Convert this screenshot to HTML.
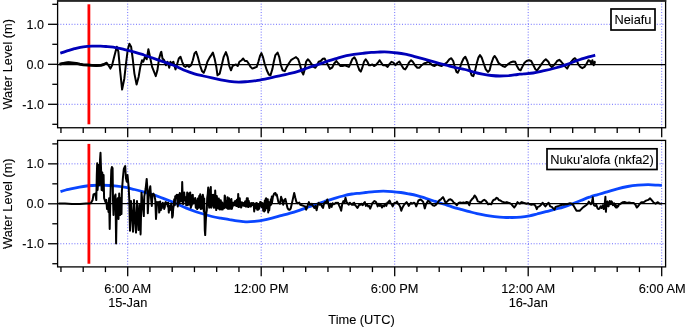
<!DOCTYPE html>
<html><head><meta charset="utf-8"><style>html,body{margin:0;padding:0;background:#fff;width:685px;height:327px;overflow:hidden}</style></head>
<body>
<svg width="685" height="327" viewBox="0 0 685 327" style="display:block;will-change:transform">
<line x1="127.70" y1="0.85" x2="127.70" y2="127.75" stroke="#6b6bff" stroke-width="1" stroke-dasharray="1,1.8"/>
<line x1="261.20" y1="0.85" x2="261.20" y2="127.75" stroke="#6b6bff" stroke-width="1" stroke-dasharray="1,1.8"/>
<line x1="394.70" y1="0.85" x2="394.70" y2="127.75" stroke="#6b6bff" stroke-width="1" stroke-dasharray="1,1.8"/>
<line x1="528.20" y1="0.85" x2="528.20" y2="127.75" stroke="#6b6bff" stroke-width="1" stroke-dasharray="1,1.8"/>
<line x1="661.70" y1="0.85" x2="661.70" y2="127.75" stroke="#6b6bff" stroke-width="1" stroke-dasharray="1,1.8"/>
<line x1="57.6" y1="24.30" x2="665.6" y2="24.30" stroke="#6b6bff" stroke-width="1" stroke-dasharray="1,1.8"/>
<line x1="57.6" y1="104.30" x2="665.6" y2="104.30" stroke="#6b6bff" stroke-width="1" stroke-dasharray="1,1.8"/>
<line x1="88.9" y1="4.30" x2="88.9" y2="124.30" stroke="#ff0000" stroke-width="2.8"/>
<line x1="57.6" y1="64.50" x2="665.6" y2="64.50" stroke="#000" stroke-width="1.25"/>
<path d="M59.6,64.2 L62.3,63.6 L65.8,62.9 L68.4,62.6 L71.9,62.9 L76.3,63.4 L79.8,64.2 L83.3,64.8 L87.6,65.0 L92.0,65.3 L96.4,65.6 L100.8,65.3 L104.3,64.3 L105.0,63.5 L106.7,62.7 L108.4,65.2 L110.4,68.6 L112.1,65.2 L114.2,56.8 L116.8,46.7 L118.4,51.8 L120.1,70.3 L122.1,89.6 L124.3,78.7 L126.0,63.5 L127.7,50.1 L129.4,43.7 L131.1,46.7 L132.7,58.5 L134.4,73.6 L136.6,84.5 L138.6,77.0 L140.3,66.9 L142.0,60.2 L143.3,61.8 L145.0,56.8 L146.7,59.3 L148.4,49.2 L150.0,56.8 L152.1,66.9 L154.1,71.9 L155.8,76.1 L157.4,70.3 L159.1,58.5 L160.8,52.6 L161.3,51.8 L162.5,58.5 L164.2,60.2 L165.9,65.2 L167.6,61.8 L169.2,67.7 L170.4,61.8 L171.8,63.5 L173.4,61.8 L175.5,69.4 L176.8,65.2 L178.8,58.5 L180.5,56.8 L182.2,61.8 L183.9,66.0 L185.5,66.9 L187.2,65.2 L188.9,66.9 L191.1,65.2 L192.8,60.2 L194.5,53.4 L196.1,51.8 L197.8,56.8 L200.0,65.2 L202.0,71.1 L203.7,72.8 L205.4,68.6 L207.4,61.8 L209.6,57.6 L211.3,55.1 L212.9,52.6 L214.6,58.5 L216.3,66.9 L217.5,75.3 L219.7,73.6 L221.7,65.2 L223.7,56.8 L225.9,52.1 L227.6,56.8 L229.3,66.0 L231.0,70.3 L232.6,66.0 L234.3,65.2 L236.0,64.4 L237.7,66.0 L239.4,61.8 L241.6,60.2 L243.2,58.5 L244.9,61.0 L246.9,61.0 L248.6,63.5 L250.6,66.9 L252.3,68.6 L254.5,67.7 L256.7,66.9 L258.4,61.8 L260.0,56.0 L261.4,53.1 L262.9,56.8 L264.6,63.5 L266.8,70.3 L268.8,74.5 L270.5,75.3 L272.5,68.6 L273.8,61.8 L275.4,55.1 L277.6,52.6 L279.2,56.8 L280.9,65.2 L282.6,70.3 L284.8,71.1 L286.8,66.9 L288.8,63.5 L291.0,60.2 L293.5,58.5 L296.0,57.1 L298.2,59.3 L299.9,64.4 L301.9,71.9 L303.3,74.5 L304.5,70.3 L306.1,61.8 L307.8,59.3 L309.5,61.0 L311.2,63.5 L313.4,66.9 L315.4,67.7 L317.1,65.2 L318.7,61.8 L320.8,61.0 L322.9,58.8 L324.6,58.5 L326.3,61.8 L328.4,66.0 L330.0,68.9 L332.1,67.7 L334.2,63.5 L336.4,61.0 L338.4,63.5 L340.5,66.0 L342.6,66.0 L344.8,65.2 L346.8,66.0 L348.9,66.9 L350.5,63.5 L352.2,59.3 L354.4,57.3 L356.1,60.2 L357.8,66.0 L359.5,70.3 L360.8,71.6 L362.3,67.7 L364.0,61.8 L365.7,59.3 L367.4,61.8 L369.0,65.2 L370.7,65.2 L372.4,64.4 L374.1,66.0 L375.8,65.2 L377.9,62.7 L379.6,60.2 L381.3,62.7 L383.0,65.2 L385.4,65.2 L387.6,66.9 L389.2,64.4 L391.4,61.8 L393.4,62.7 L395.5,65.2 L397.6,62.7 L399.3,61.5 L401.5,65.2 L403.5,68.6 L405.2,69.4 L406.9,66.9 L408.9,62.7 L411.1,60.2 L412.8,61.8 L415.0,65.2 L417.3,67.7 L419.5,67.7 L421.7,65.2 L424.0,63.5 L426.2,62.7 L428.4,61.8 L430.4,63.5 L432.4,65.2 L434.6,66.0 L437.1,64.4 L439.2,65.2 L441.7,66.0 L444.2,64.4 L446.8,62.7 L449.3,59.3 L451.3,58.2 L453.2,61.0 L454.8,66.9 L456.5,71.9 L457.7,72.8 L459.4,69.4 L461.6,62.7 L463.6,58.5 L465.3,56.8 L467.3,61.0 L469.5,68.6 L471.6,75.3 L473.3,76.1 L475.0,71.1 L476.7,63.5 L478.4,57.6 L480.0,55.1 L481.7,57.6 L483.7,63.5 L485.8,69.4 L487.9,71.9 L489.6,70.3 L491.3,63.5 L493.4,57.6 L494.7,56.0 L496.4,58.5 L498.4,62.7 L500.4,64.4 L502.6,66.0 L504.8,66.9 L506.8,65.2 L508.8,63.5 L511.0,62.2 L513.2,61.5 L515.2,61.8 L516.9,66.0 L518.9,69.4 L520.6,70.3 L522.3,66.9 L524.5,62.7 L526.6,61.0 L529.0,60.2 L531.2,61.0 L533.4,65.2 L535.4,69.4 L537.1,70.3 L539.1,67.7 L541.3,64.4 L543.8,61.0 L545.8,59.3 L548.4,61.8 L550.0,65.2 L551.7,67.2 L553.7,65.2 L555.4,63.5 L557.1,61.0 L559.3,59.8 L561.3,61.8 L563.5,64.4 L565.5,66.9 L567.2,68.6 L568.9,65.2 L571.1,61.8 L573.2,59.3 L574.9,58.2 L576.6,60.2 L578.3,64.4 L580.3,66.9 L582.3,68.2 L584.5,66.9 L586.7,63.5 L588.4,60.2 L590.0,61.0 L591.2,63.5 L592.4,60.2 L593.7,65.2 L594.7,61.8 L594.9,63.5" fill="none" stroke="#000" stroke-width="2" stroke-linejoin="round"/><path d="M59.6,64.2 L62.3,63.6 L65.8,62.9 L68.4,62.6 L71.9,62.9 L76.3,63.4 L79.8,64.2 L83.3,64.8 L87.6,65.0 L92.0,65.3 L96.4,65.6 L100.8,65.3 L104.3,64.3" fill="none" stroke="#000" stroke-width="2.8" stroke-linejoin="round"/>
<path d="M60.3,53.1 C61.2,52.8 63.4,52.0 65.8,51.3 C68.2,50.6 71.6,49.5 74.5,48.7 C77.4,48.0 80.4,47.2 83.3,46.8 C86.2,46.4 89.4,46.2 92.0,46.1 C94.6,46.0 96.7,46.0 99.0,46.1 C101.3,46.2 103.0,46.2 106.0,46.5 C109.0,46.8 113.7,47.2 117.0,47.8 C120.3,48.4 122.9,49.2 125.8,49.9 C128.7,50.6 131.6,51.3 134.5,52.1 C137.4,52.9 140.4,53.8 143.3,54.7 C146.2,55.7 149.1,56.8 152.0,57.8 C154.9,58.8 157.9,59.8 160.8,60.8 C163.7,61.8 166.8,62.9 169.5,63.9 C172.2,64.9 174.3,65.5 177.0,66.7 C179.7,67.9 182.9,69.6 185.8,70.8 C188.7,72.0 191.6,72.9 194.5,73.8 C197.4,74.7 200.4,75.3 203.3,76.0 C206.2,76.7 209.1,77.3 212.0,77.9 C214.9,78.5 217.9,79.2 220.8,79.8 C223.7,80.4 226.5,80.9 229.5,81.3 C232.5,81.7 235.8,82.0 238.8,82.1 C241.8,82.1 244.6,81.8 247.5,81.6 C250.4,81.3 254.0,80.9 256.3,80.6 C258.6,80.3 259.3,80.1 261.5,79.7 C263.7,79.3 266.6,78.7 269.4,78.1 C272.2,77.5 275.1,76.9 278.2,76.2 C281.3,75.5 284.7,74.8 288.0,74.0 C291.3,73.2 294.7,72.5 298.1,71.4 C301.5,70.4 304.8,68.9 308.2,67.7 C311.6,66.5 314.9,65.5 318.3,64.4 C321.7,63.3 325.0,62.0 328.3,60.9 C331.6,59.8 335.4,58.8 338.4,57.9 C341.4,57.0 343.9,56.3 346.5,55.7 C349.1,55.1 351.1,54.8 353.8,54.4 C356.5,54.0 359.6,53.6 362.5,53.3 C365.4,53.0 368.4,52.6 371.3,52.4 C374.2,52.2 377.8,52.1 380.0,52.0 C382.2,51.9 382.9,51.9 384.4,51.9 C385.9,51.9 386.6,51.9 388.8,52.1 C391.0,52.3 394.8,52.7 397.5,53.0 C400.2,53.3 402.3,53.6 405.0,54.1 C407.7,54.6 410.9,55.5 413.8,56.3 C416.7,57.1 419.6,57.9 422.5,58.7 C425.4,59.5 428.4,60.3 431.3,61.1 C434.2,61.9 437.1,62.8 440.0,63.6 C442.9,64.4 445.9,65.1 448.8,65.8 C451.7,66.5 454.8,67.4 457.5,68.0 C460.2,68.6 462.3,68.8 465.0,69.5 C467.7,70.2 470.9,71.3 473.8,72.1 C476.7,72.9 479.6,73.6 482.5,74.2 C485.4,74.8 488.4,75.2 491.3,75.5 C494.2,75.8 497.1,76.0 500.0,76.0 C502.9,76.0 505.9,75.8 508.8,75.6 C511.7,75.3 515.0,74.8 517.5,74.5 C520.0,74.2 520.9,74.0 523.5,73.8 C526.1,73.5 529.6,73.5 533.1,73.0 C536.6,72.5 540.5,71.5 544.2,70.7 C547.9,69.9 551.6,69.0 555.3,68.0 C559.0,67.0 562.7,65.9 566.4,64.6 C570.1,63.3 573.8,61.7 577.5,60.4 C581.2,59.1 585.6,57.8 588.6,56.9 C591.6,56.0 594.1,55.5 595.2,55.2" fill="none" stroke="#0000b8" stroke-width="2.8" stroke-linecap="butt"/>
<rect x="57.6" y="0.85" width="608.0" height="126.9" fill="none" stroke="#000" stroke-width="1.3"/>
<rect x="56.95" y="0" width="609.3" height="1.7" fill="#262626"/>
<line x1="52.3" y1="4.30" x2="57.6" y2="4.30" stroke="#000" stroke-width="1.3"/>
<line x1="48" y1="24.30" x2="57.6" y2="24.30" stroke="#000" stroke-width="1.3"/>
<text x="43.9" y="28.70" text-anchor="end" style="font-family:'Liberation Sans',sans-serif;stroke:#000;stroke-width:0.1px;font-size:12.5px">1.0</text>
<line x1="52.3" y1="44.30" x2="57.6" y2="44.30" stroke="#000" stroke-width="1.3"/>
<line x1="48" y1="64.30" x2="57.6" y2="64.30" stroke="#000" stroke-width="1.3"/>
<text x="43.9" y="68.70" text-anchor="end" style="font-family:'Liberation Sans',sans-serif;stroke:#000;stroke-width:0.1px;font-size:12.5px">0.0</text>
<line x1="52.3" y1="84.30" x2="57.6" y2="84.30" stroke="#000" stroke-width="1.3"/>
<line x1="48" y1="104.30" x2="57.6" y2="104.30" stroke="#000" stroke-width="1.3"/>
<text x="43.9" y="108.70" text-anchor="end" style="font-family:'Liberation Sans',sans-serif;stroke:#000;stroke-width:0.1px;font-size:12.5px">-1.0</text>
<line x1="52.3" y1="124.30" x2="57.6" y2="124.30" stroke="#000" stroke-width="1.3"/>
<line x1="60.95" y1="127.75" x2="60.95" y2="132.95" stroke="#000" stroke-width="1.3"/>
<line x1="83.20" y1="127.75" x2="83.20" y2="132.95" stroke="#000" stroke-width="1.3"/>
<line x1="105.45" y1="127.75" x2="105.45" y2="132.95" stroke="#000" stroke-width="1.3"/>
<line x1="127.70" y1="127.75" x2="127.70" y2="137.15" stroke="#000" stroke-width="1.3"/>
<line x1="149.95" y1="127.75" x2="149.95" y2="132.95" stroke="#000" stroke-width="1.3"/>
<line x1="172.20" y1="127.75" x2="172.20" y2="132.95" stroke="#000" stroke-width="1.3"/>
<line x1="194.45" y1="127.75" x2="194.45" y2="132.95" stroke="#000" stroke-width="1.3"/>
<line x1="216.70" y1="127.75" x2="216.70" y2="132.95" stroke="#000" stroke-width="1.3"/>
<line x1="238.95" y1="127.75" x2="238.95" y2="132.95" stroke="#000" stroke-width="1.3"/>
<line x1="261.20" y1="127.75" x2="261.20" y2="137.15" stroke="#000" stroke-width="1.3"/>
<line x1="283.45" y1="127.75" x2="283.45" y2="132.95" stroke="#000" stroke-width="1.3"/>
<line x1="305.70" y1="127.75" x2="305.70" y2="132.95" stroke="#000" stroke-width="1.3"/>
<line x1="327.95" y1="127.75" x2="327.95" y2="132.95" stroke="#000" stroke-width="1.3"/>
<line x1="350.20" y1="127.75" x2="350.20" y2="132.95" stroke="#000" stroke-width="1.3"/>
<line x1="372.45" y1="127.75" x2="372.45" y2="132.95" stroke="#000" stroke-width="1.3"/>
<line x1="394.70" y1="127.75" x2="394.70" y2="137.15" stroke="#000" stroke-width="1.3"/>
<line x1="416.95" y1="127.75" x2="416.95" y2="132.95" stroke="#000" stroke-width="1.3"/>
<line x1="439.20" y1="127.75" x2="439.20" y2="132.95" stroke="#000" stroke-width="1.3"/>
<line x1="461.45" y1="127.75" x2="461.45" y2="132.95" stroke="#000" stroke-width="1.3"/>
<line x1="483.70" y1="127.75" x2="483.70" y2="132.95" stroke="#000" stroke-width="1.3"/>
<line x1="505.95" y1="127.75" x2="505.95" y2="132.95" stroke="#000" stroke-width="1.3"/>
<line x1="528.20" y1="127.75" x2="528.20" y2="137.15" stroke="#000" stroke-width="1.3"/>
<line x1="550.45" y1="127.75" x2="550.45" y2="132.95" stroke="#000" stroke-width="1.3"/>
<line x1="572.70" y1="127.75" x2="572.70" y2="132.95" stroke="#000" stroke-width="1.3"/>
<line x1="594.95" y1="127.75" x2="594.95" y2="132.95" stroke="#000" stroke-width="1.3"/>
<line x1="617.20" y1="127.75" x2="617.20" y2="132.95" stroke="#000" stroke-width="1.3"/>
<line x1="639.45" y1="127.75" x2="639.45" y2="132.95" stroke="#000" stroke-width="1.3"/>
<line x1="661.70" y1="127.75" x2="661.70" y2="137.15" stroke="#000" stroke-width="1.3"/>
<rect x="611" y="9" width="44" height="21" fill="#fff" stroke="#000" stroke-width="1.7"/>
<text x="633.00" y="24.20" text-anchor="middle" style="font-family:'Liberation Sans',sans-serif;stroke:#000;stroke-width:0.1px;font-size:12.8px">Neiafu</text>
<text transform="translate(11.6,64.30) rotate(-90)" text-anchor="middle" style="font-family:'Liberation Sans',sans-serif;stroke:#000;stroke-width:0.1px;font-size:12.8px">Water Level (m)</text>
<line x1="127.70" y1="140.4" x2="127.70" y2="266.9" stroke="#6b6bff" stroke-width="1" stroke-dasharray="1,1.8"/>
<line x1="261.20" y1="140.4" x2="261.20" y2="266.9" stroke="#6b6bff" stroke-width="1" stroke-dasharray="1,1.8"/>
<line x1="394.70" y1="140.4" x2="394.70" y2="266.9" stroke="#6b6bff" stroke-width="1" stroke-dasharray="1,1.8"/>
<line x1="528.20" y1="140.4" x2="528.20" y2="266.9" stroke="#6b6bff" stroke-width="1" stroke-dasharray="1,1.8"/>
<line x1="661.70" y1="140.4" x2="661.70" y2="266.9" stroke="#6b6bff" stroke-width="1" stroke-dasharray="1,1.8"/>
<line x1="57.6" y1="163.85" x2="665.6" y2="163.85" stroke="#6b6bff" stroke-width="1" stroke-dasharray="1,1.8"/>
<line x1="57.6" y1="243.75" x2="665.6" y2="243.75" stroke="#6b6bff" stroke-width="1" stroke-dasharray="1,1.8"/>
<path d="M60.5,191.6 C61.4,191.3 63.5,190.6 65.8,190.0 C68.1,189.4 71.6,188.7 74.5,188.1 C77.4,187.5 80.4,186.9 83.3,186.5 C86.2,186.1 89.1,185.7 92.0,185.5 C94.9,185.3 97.9,185.2 100.8,185.2 C103.7,185.2 106.8,185.3 109.5,185.5 C112.2,185.7 114.3,185.8 117.0,186.1 C119.7,186.4 122.9,186.8 125.8,187.4 C128.7,188.0 131.6,188.8 134.5,189.5 C137.4,190.2 140.4,191.0 143.3,191.8 C146.2,192.6 149.1,193.5 152.0,194.4 C154.9,195.3 157.9,196.4 160.8,197.5 C163.7,198.6 166.9,199.8 169.5,200.8 C172.1,201.8 173.7,202.5 176.4,203.7 C179.1,204.9 182.8,206.7 185.8,207.9 C188.8,209.2 191.6,210.2 194.5,211.2 C197.4,212.2 200.4,213.1 203.3,214.0 C206.2,214.9 209.1,215.8 212.0,216.5 C214.9,217.2 217.9,217.7 220.8,218.2 C223.7,218.7 226.8,219.2 229.5,219.7 C232.2,220.1 234.3,220.6 237.0,220.9 C239.7,221.2 242.9,221.7 245.8,221.8 C248.7,221.9 251.6,221.7 254.5,221.4 C257.4,221.1 260.4,220.7 263.3,220.1 C266.2,219.5 269.1,218.8 272.0,218.1 C274.9,217.4 277.9,216.5 280.8,215.7 C283.7,214.9 286.8,214.1 289.5,213.3 C292.2,212.6 294.2,212.1 297.0,211.2 C299.8,210.3 303.1,209.0 306.2,207.9 C309.2,206.8 312.2,205.8 315.3,204.7 C318.4,203.6 321.4,202.5 324.5,201.5 C327.6,200.5 330.6,199.5 333.7,198.6 C336.8,197.7 339.8,196.8 342.9,196.0 C345.9,195.2 349.6,194.4 352.0,194.0 C354.4,193.6 354.7,193.7 357.0,193.4 C359.3,193.2 362.9,192.8 365.8,192.5 C368.7,192.2 371.6,191.8 374.5,191.6 C377.4,191.4 380.4,191.2 383.3,191.2 C386.2,191.2 389.1,191.4 392.0,191.6 C394.9,191.8 397.9,192.1 400.8,192.5 C403.7,192.9 406.8,193.5 409.5,194.0 C412.2,194.5 414.3,194.9 417.0,195.6 C419.7,196.3 422.9,197.4 425.8,198.3 C428.7,199.2 431.6,200.2 434.5,201.2 C437.4,202.1 440.4,203.1 443.3,204.0 C446.2,204.9 449.1,205.9 452.0,206.8 C454.9,207.7 457.9,208.5 460.8,209.3 C463.7,210.1 466.8,211.0 469.5,211.7 C472.2,212.4 474.3,213.0 477.0,213.6 C479.7,214.2 482.9,214.8 485.8,215.3 C488.7,215.8 491.6,216.3 494.5,216.6 C497.4,216.9 500.4,217.2 503.3,217.3 C506.2,217.5 509.1,217.5 512.0,217.5 C514.9,217.5 517.9,217.4 520.8,217.1 C523.7,216.8 526.8,216.3 529.5,215.8 C532.2,215.3 534.3,214.7 537.0,214.0 C539.7,213.3 542.9,212.5 545.8,211.7 C548.7,210.9 551.6,210.2 554.5,209.4 C557.4,208.6 560.4,208.0 563.3,207.1 C566.2,206.2 569.1,205.1 572.0,204.0 C574.9,202.9 577.9,201.6 580.8,200.5 C583.7,199.4 586.8,198.1 589.5,197.2 C592.2,196.2 594.0,195.7 597.0,194.8 C600.0,193.9 603.8,192.9 607.2,191.9 C610.6,190.9 614.0,189.7 617.4,188.8 C620.8,187.9 624.3,187.1 627.7,186.5 C631.1,185.9 634.5,185.5 637.9,185.2 C641.3,184.9 644.7,184.7 648.1,184.7 C651.5,184.7 656.0,185.1 658.3,185.2 C660.6,185.3 661.3,185.4 661.9,185.4" fill="none" stroke="#0a46ff" stroke-width="2.8" stroke-linecap="butt"/>
<line x1="88.9" y1="143.88" x2="88.9" y2="263.73" stroke="#ff0000" stroke-width="2.8"/>
<line x1="57.6" y1="203.50" x2="665.6" y2="203.50" stroke="#000" stroke-width="1.25"/>
<path d="M58.5,203.5 L65.0,203.6 L72.0,204.0 L80.0,203.9 L86.0,203.5 L90.8,203.3 L92.6,200.0 L93.5,194.5 L95.3,193.6 L96.3,200.0 L96.8,175.0 L97.2,163.3 L97.6,190.0 L98.1,181.7 L98.5,165.0 L99.0,170.7 L99.5,185.0 L100.0,160.0 L100.5,152.7 L100.9,165.0 L101.2,172.5 L101.6,190.0 L102.0,175.0 L102.3,172.5 L102.7,185.0 L103.2,190.9 L103.6,175.0 L104.1,198.2 L105.4,201.9 L106.3,200.0 L107.0,209.0 L107.8,203.3 L108.5,212.0 L109.1,198.2 L109.7,229.0 L110.4,196.4 L111.3,170.0 L111.9,167.0 L112.3,185.0 L112.6,168.0 L113.0,200.0 L113.5,215.0 L114.1,198.2 L115.5,194.5 L116.1,243.6 L116.8,205.0 L117.7,198.2 L118.5,219.0 L119.2,193.6 L120.2,215.0 L120.7,198.2 L121.5,214.0 L121.9,190.9 L122.9,178.0 L123.8,168.9 L124.7,167.0 L125.2,166.1 L125.9,178.0 L126.8,181.7 L127.5,175.0 L128.7,187.2 L129.3,200.0 L130.0,230.8 L131.0,201.0 L132.0,215.0 L133.0,231.7 L134.0,200.0 L135.0,220.0 L136.0,232.6 L137.0,201.0 L138.5,229.9 L139.5,205.0 L140.6,234.4 L141.5,192.7 L142.4,201.9 L143.8,216.1 L144.3,196.4 L145.6,189.0 L146.7,178.9 L147.4,189.0 L147.8,213.3 L148.5,200.0 L149.4,190.9 L150.3,186.3 L151.2,200.0 L151.8,206.0 L152.5,194.5 L153.4,193.6 L154.4,195.5 L155.3,200.0 L156.0,218.9 L157.1,201.9 L158.2,203.7 L158.8,202.1 L159.2,212.6 L159.8,210.1 L160.2,201.5 L160.8,210.1 L161.2,204.6 L161.8,208.5 L162.2,204.3 L162.8,202.8 L163.2,206.5 L163.8,205.8 L164.2,208.9 L164.8,207.2 L165.2,202.5 L165.8,202.1 L166.2,203.9 L166.8,202.8 L167.2,203.8 L167.8,206.5 L168.2,202.8 L168.8,212.6 L169.2,205.8 L169.8,210.3 L170.2,208.9 L170.8,207.1 L171.2,203.4 L171.8,208.3 L172.2,217.6 L172.8,215.6 L173.2,208.8 L173.8,204.6 L174.2,199.2 L174.8,205.2 L175.2,196.4 L175.8,196.0 L176.2,195.8 L176.8,194.8 L177.2,199.3 L177.8,206.5 L178.2,194.8 L178.8,199.9 L179.2,203.4 L179.8,193.0 L180.2,195.3 L180.8,201.6 L181.2,193.6 L181.8,199.8 L182.2,182.0 L182.8,201.6 L183.2,204.0 L183.8,200.0 L184.2,192.4 L184.8,199.4 L185.2,200.3 L185.8,197.2 L186.2,205.2 L186.8,202.3 L187.2,192.4 L187.8,205.2 L188.2,195.6 L188.8,200.1 L189.2,193.2 L189.8,204.8 L190.2,192.4 L190.8,207.7 L191.2,206.5 L191.8,204.9 L192.2,195.1 L192.8,194.8 L193.2,203.4 L193.8,199.1 L194.2,199.6 L194.8,202.1 L195.2,197.9 L195.8,207.7 L196.2,200.3 L196.8,204.7 L197.2,209.1 L197.8,198.4 L198.2,200.7 L198.8,207.7 L199.2,196.0 L199.8,206.2 L200.2,194.2 L200.8,208.9 L201.2,197.7 L201.8,208.7 L202.2,196.7 L202.8,194.8 L203.2,196.6 L203.8,211.4 L204.2,198.5 L204.8,230.5 L205.2,235.1 L205.8,221.1 L206.2,213.8 L206.8,210.1 L207.2,197.8 L207.8,193.6 L208.2,187.5 L208.8,204.2 L209.2,207.7 L209.8,201.9 L210.2,190.5 L210.8,186.9 L211.2,207.7 L211.8,205.6 L212.2,194.9 L212.8,205.6 L213.2,194.8 L213.8,207.7 L214.2,207.7 L214.8,205.1 L215.2,190.5 L215.8,203.7 L216.2,210.1 L216.8,196.0 L217.2,199.6 L217.8,208.2 L218.2,202.3 L218.8,198.5 L219.2,208.9 L219.8,209.4 L220.2,200.5 L220.8,200.3 L221.2,209.5 L221.7,202.1 L222.2,202.8 L222.7,209.5 L223.2,203.4 L223.7,206.4 L224.2,208.3 L224.7,195.4 L225.2,197.0 L225.6,207.4 L226.1,202.0 L226.6,200.9 L227.1,208.3 L227.6,197.2 L228.1,208.9 L228.6,207.4 L229.1,198.2 L229.5,207.7 L230.0,208.9 L230.5,199.7 L231.0,202.2 L231.4,199.1 L231.9,208.9 L232.4,206.6 L232.9,202.8 L233.4,204.7 L233.9,205.5 L234.4,203.9 L234.8,201.2 L235.3,204.9 L235.8,200.9 L236.2,205.9 L236.8,199.8 L237.2,204.5 L237.8,206.6 L238.2,193.9 L238.8,207.1 L239.2,205.4 L239.8,198.3 L240.2,206.8 L240.8,201.9 L241.2,207.6 L241.8,203.8 L242.2,202.5 L242.8,203.2 L243.2,205.5 L243.8,203.0 L244.2,205.9 L244.8,202.3 L245.2,201.4 L245.8,206.6 L246.2,206.6 L246.8,198.3 L247.2,205.2 L247.8,198.2 L248.2,207.1 L248.8,200.9 L249.2,205.9 L249.8,203.0 L250.2,206.6 L250.8,206.6 L251.2,205.9 L251.8,203.0 L252.2,204.9 L252.8,204.0 L253.2,203.0 L253.8,206.0 L254.2,211.4 L254.8,206.1 L255.2,203.5 L255.8,203.6 L256.2,208.2 L256.8,203.0 L257.2,209.8 L257.8,209.8 L258.2,204.6 L258.8,209.2 L259.2,208.3 L259.8,205.0 L260.2,201.9 L260.8,202.0 L261.2,205.2 L261.8,207.1 L262.2,203.0 L262.8,203.4 L263.2,210.8 L263.8,206.0 L264.2,211.4 L264.8,200.5 L265.2,210.4 L265.8,198.7 L266.2,198.2 L266.8,208.2 L267.2,207.2 L267.8,199.3 L268.2,212.4 L268.8,201.9 L269.2,210.3 L269.8,204.3 L270.2,205.5 L270.8,199.3 L271.2,204.6 L271.8,196.6 L272.0,202.6 L272.9,196.8 L274.1,193.6 L275.4,193.0 L276.2,195.5 L276.8,194.6 L278.4,202.1 L280.0,203.7 L281.1,196.8 L282.2,200.0 L283.2,204.8 L284.3,200.0 L285.4,198.9 L286.4,203.2 L287.5,208.0 L288.6,209.6 L289.6,209.8 L290.7,208.5 L291.8,203.7 L292.9,198.9 L294.2,193.0 L295.3,197.8 L296.4,202.1 L297.7,203.2 L299.3,202.6 L300.3,204.8 L301.9,205.3 L303.6,205.9 L305.2,206.4 L306.2,209.6 L307.3,206.4 L308.9,202.1 L310.0,204.8 L312.0,203.7 L312.3,205.3 L313.4,206.4 L314.4,208.0 L315.5,205.9 L316.6,210.2 L317.7,205.3 L318.7,202.7 L319.8,204.8 L320.9,203.7 L321.9,206.4 L323.0,208.0 L324.1,203.2 L325.1,202.1 L326.2,202.7 L327.3,199.5 L328.4,203.7 L329.4,208.0 L330.5,203.7 L331.6,206.9 L332.6,203.2 L333.7,204.3 L334.8,203.7 L335.9,202.7 L336.9,203.2 L338.0,202.7 L339.1,205.3 L340.1,207.5 L341.2,210.7 L342.3,203.7 L343.4,201.1 L344.4,202.7 L345.5,197.8 L346.6,202.1 L347.6,203.2 L348.7,204.8 L349.8,202.7 L350.8,203.7 L351.9,204.8 L353.0,203.2 L354.1,204.3 L353.1,204.8 L354.1,202.7 L355.2,205.3 L356.3,206.4 L357.4,208.0 L358.4,206.4 L359.5,204.3 L360.6,204.8 L361.6,203.7 L362.7,205.3 L363.8,203.2 L364.8,202.1 L365.9,205.9 L367.0,204.3 L368.1,206.4 L369.1,205.9 L370.2,208.6 L371.3,205.9 L372.3,203.2 L373.4,202.1 L374.5,201.1 L375.6,201.6 L376.6,203.2 L377.7,206.4 L378.8,203.7 L379.8,205.9 L380.9,204.8 L382.0,207.5 L383.0,205.3 L384.1,206.4 L385.2,203.7 L386.3,205.9 L387.3,202.7 L388.4,202.1 L389.5,200.5 L390.5,202.7 L391.6,204.3 L392.7,206.4 L393.8,203.7 L394.8,202.7 L395.9,203.2 L397.0,201.6 L398.0,203.7 L399.1,204.8 L400.2,206.9 L401.3,210.7 L402.3,208.0 L403.4,205.9 L404.5,204.3 L405.5,203.2 L406.6,202.1 L407.7,203.7 L408.7,205.9 L409.8,204.3 L410.9,202.7 L412.0,203.7 L413.0,203.2 L414.1,202.7 L415.2,203.7 L416.2,206.4 L417.3,203.7 L418.4,200.5 L419.5,200.0 L420.5,199.5 L421.6,200.3 L423.2,201.9 L424.8,208.4 L425.9,204.6 L427.0,202.5 L428.0,200.9 L429.6,201.9 L431.2,203.6 L432.8,205.2 L434.5,205.7 L436.1,204.6 L437.7,202.5 L439.3,200.3 L440.9,199.3 L441.9,198.2 L443.0,197.1 L444.1,199.3 L445.7,203.0 L447.3,201.4 L448.9,199.8 L450.5,199.3 L452.1,200.3 L453.7,202.5 L455.3,203.6 L456.9,205.2 L458.5,203.0 L460.1,202.5 L461.8,203.0 L463.4,202.5 L465.0,203.0 L466.6,201.9 L468.2,202.5 L469.3,205.2 L470.3,201.4 L471.9,199.3 L473.5,197.7 L474.6,195.5 L475.7,196.6 L476.7,198.7 L477.8,201.4 L479.4,201.9 L481.0,202.5 L482.6,200.9 L484.2,199.8 L485.8,200.9 L486.9,202.5 L487.0,202.1 L488.1,204.3 L489.7,203.7 L491.3,204.3 L492.4,201.6 L493.4,200.0 L495.0,199.5 L496.6,197.8 L497.7,198.4 L498.8,200.0 L500.4,200.5 L502.0,201.6 L503.6,202.1 L505.2,202.7 L506.8,202.1 L508.4,202.7 L510.0,203.2 L511.6,204.3 L513.2,206.4 L514.3,207.5 L515.4,205.9 L516.4,204.3 L517.5,202.1 L518.6,203.2 L519.7,203.7 L520.7,202.7 L521.8,202.1 L523.4,202.7 L525.0,203.2 L526.6,203.7 L528.2,203.2 L529.8,204.3 L531.4,204.8 L533.0,204.3 L534.6,204.8 L535.7,206.4 L536.8,209.1 L537.9,206.9 L539.5,206.4 L541.1,204.8 L542.7,202.7 L543.7,204.3 L545.4,206.4 L547.0,204.3 L548.6,202.7 L550.2,206.4 L551.8,206.9 L553.4,208.6 L554.5,209.6 L555.6,206.9 L557.2,206.4 L558.8,205.9 L560.4,205.3 L562.0,204.8 L563.6,204.8 L565.2,204.3 L566.8,204.3 L568.5,203.7 L570.1,203.2 L571.7,203.7 L573.3,205.3 L574.9,208.0 L576.5,210.7 L578.1,210.7 L579.7,210.7 L581.3,209.1 L582.9,207.5 L584.5,206.4 L586.1,205.3 L587.7,203.7 L588.8,201.6 L589.9,203.2 L590.9,204.3 L592.0,202.1 L592.8,197.3 L593.4,203.7 L594.1,205.3 L595.2,205.9 L596.3,204.8 L597.4,208.0 L598.4,209.1 L599.5,208.6 L600.6,206.4 L601.6,208.0 L602.7,205.3 L603.8,209.1 L604.9,202.1 L605.4,196.8 L605.9,211.8 L606.5,204.3 L607.0,206.4 L607.5,201.6 L608.6,206.4 L609.7,201.1 L610.7,204.3 L611.8,201.6 L612.9,205.3 L614.0,203.2 L615.0,206.4 L616.1,207.5 L617.2,206.9 L618.2,206.4 L610.0,202.2 L611.5,201.4 L613.1,204.5 L615.4,206.0 L616.9,207.5 L618.4,205.2 L620.7,203.7 L623.0,202.2 L624.5,201.9 L626.8,202.9 L629.1,202.5 L631.4,202.9 L633.7,202.9 L635.3,204.5 L636.8,207.5 L638.3,206.0 L639.9,203.7 L641.4,202.2 L643.7,202.2 L646.0,200.6 L648.3,199.9 L650.1,198.3 L652.1,200.6 L653.6,202.5 L655.6,203.7 L657.5,202.2 L659.3,203.4 L661.8,203.7" fill="none" stroke="#000" stroke-width="2" stroke-linejoin="round"/>
<rect x="57.6" y="140.4" width="608.0" height="126.49999999999997" fill="none" stroke="#000" stroke-width="1.3"/>
<line x1="52.3" y1="143.88" x2="57.6" y2="143.88" stroke="#000" stroke-width="1.3"/>
<line x1="48" y1="163.85" x2="57.6" y2="163.85" stroke="#000" stroke-width="1.3"/>
<text x="43.9" y="168.25" text-anchor="end" style="font-family:'Liberation Sans',sans-serif;stroke:#000;stroke-width:0.1px;font-size:12.5px">1.0</text>
<line x1="52.3" y1="183.83" x2="57.6" y2="183.83" stroke="#000" stroke-width="1.3"/>
<line x1="48" y1="203.80" x2="57.6" y2="203.80" stroke="#000" stroke-width="1.3"/>
<text x="43.9" y="208.20" text-anchor="end" style="font-family:'Liberation Sans',sans-serif;stroke:#000;stroke-width:0.1px;font-size:12.5px">0.0</text>
<line x1="52.3" y1="223.78" x2="57.6" y2="223.78" stroke="#000" stroke-width="1.3"/>
<line x1="48" y1="243.75" x2="57.6" y2="243.75" stroke="#000" stroke-width="1.3"/>
<text x="43.9" y="248.15" text-anchor="end" style="font-family:'Liberation Sans',sans-serif;stroke:#000;stroke-width:0.1px;font-size:12.5px">-1.0</text>
<line x1="52.3" y1="263.73" x2="57.6" y2="263.73" stroke="#000" stroke-width="1.3"/>
<line x1="60.95" y1="266.9" x2="60.95" y2="272.10" stroke="#000" stroke-width="1.3"/>
<line x1="83.20" y1="266.9" x2="83.20" y2="272.10" stroke="#000" stroke-width="1.3"/>
<line x1="105.45" y1="266.9" x2="105.45" y2="272.10" stroke="#000" stroke-width="1.3"/>
<line x1="127.70" y1="266.9" x2="127.70" y2="276.30" stroke="#000" stroke-width="1.3"/>
<line x1="149.95" y1="266.9" x2="149.95" y2="272.10" stroke="#000" stroke-width="1.3"/>
<line x1="172.20" y1="266.9" x2="172.20" y2="272.10" stroke="#000" stroke-width="1.3"/>
<line x1="194.45" y1="266.9" x2="194.45" y2="272.10" stroke="#000" stroke-width="1.3"/>
<line x1="216.70" y1="266.9" x2="216.70" y2="272.10" stroke="#000" stroke-width="1.3"/>
<line x1="238.95" y1="266.9" x2="238.95" y2="272.10" stroke="#000" stroke-width="1.3"/>
<line x1="261.20" y1="266.9" x2="261.20" y2="276.30" stroke="#000" stroke-width="1.3"/>
<line x1="283.45" y1="266.9" x2="283.45" y2="272.10" stroke="#000" stroke-width="1.3"/>
<line x1="305.70" y1="266.9" x2="305.70" y2="272.10" stroke="#000" stroke-width="1.3"/>
<line x1="327.95" y1="266.9" x2="327.95" y2="272.10" stroke="#000" stroke-width="1.3"/>
<line x1="350.20" y1="266.9" x2="350.20" y2="272.10" stroke="#000" stroke-width="1.3"/>
<line x1="372.45" y1="266.9" x2="372.45" y2="272.10" stroke="#000" stroke-width="1.3"/>
<line x1="394.70" y1="266.9" x2="394.70" y2="276.30" stroke="#000" stroke-width="1.3"/>
<line x1="416.95" y1="266.9" x2="416.95" y2="272.10" stroke="#000" stroke-width="1.3"/>
<line x1="439.20" y1="266.9" x2="439.20" y2="272.10" stroke="#000" stroke-width="1.3"/>
<line x1="461.45" y1="266.9" x2="461.45" y2="272.10" stroke="#000" stroke-width="1.3"/>
<line x1="483.70" y1="266.9" x2="483.70" y2="272.10" stroke="#000" stroke-width="1.3"/>
<line x1="505.95" y1="266.9" x2="505.95" y2="272.10" stroke="#000" stroke-width="1.3"/>
<line x1="528.20" y1="266.9" x2="528.20" y2="276.30" stroke="#000" stroke-width="1.3"/>
<line x1="550.45" y1="266.9" x2="550.45" y2="272.10" stroke="#000" stroke-width="1.3"/>
<line x1="572.70" y1="266.9" x2="572.70" y2="272.10" stroke="#000" stroke-width="1.3"/>
<line x1="594.95" y1="266.9" x2="594.95" y2="272.10" stroke="#000" stroke-width="1.3"/>
<line x1="617.20" y1="266.9" x2="617.20" y2="272.10" stroke="#000" stroke-width="1.3"/>
<line x1="639.45" y1="266.9" x2="639.45" y2="272.10" stroke="#000" stroke-width="1.3"/>
<line x1="661.70" y1="266.9" x2="661.70" y2="276.30" stroke="#000" stroke-width="1.3"/>
<rect x="547" y="148.8" width="110" height="20.7" fill="#fff" stroke="#000" stroke-width="1.7"/>
<text x="602.00" y="164.00" text-anchor="middle" style="font-family:'Liberation Sans',sans-serif;stroke:#000;stroke-width:0.1px;font-size:12.8px">Nuku&#39;alofa (nkfa2)</text>
<text transform="translate(11.6,203.65) rotate(-90)" text-anchor="middle" style="font-family:'Liberation Sans',sans-serif;stroke:#000;stroke-width:0.1px;font-size:12.8px">Water Level (m)</text>
<text x="127.70" y="293" text-anchor="middle" style="font-family:'Liberation Sans',sans-serif;stroke:#000;stroke-width:0.1px;font-size:12.8px">6:00 AM</text>
<text x="127.70" y="306.7" text-anchor="middle" style="font-family:'Liberation Sans',sans-serif;stroke:#000;stroke-width:0.1px;font-size:12.8px">15-Jan</text>
<text x="261.20" y="293" text-anchor="middle" style="font-family:'Liberation Sans',sans-serif;stroke:#000;stroke-width:0.1px;font-size:12.8px">12:00 PM</text>
<text x="394.70" y="293" text-anchor="middle" style="font-family:'Liberation Sans',sans-serif;stroke:#000;stroke-width:0.1px;font-size:12.8px">6:00 PM</text>
<text x="528.20" y="293" text-anchor="middle" style="font-family:'Liberation Sans',sans-serif;stroke:#000;stroke-width:0.1px;font-size:12.8px">12:00 AM</text>
<text x="528.20" y="306.7" text-anchor="middle" style="font-family:'Liberation Sans',sans-serif;stroke:#000;stroke-width:0.1px;font-size:12.8px">16-Jan</text>
<text x="685.6" y="293" text-anchor="end" style="font-family:'Liberation Sans',sans-serif;stroke:#000;stroke-width:0.1px;font-size:12.8px">6:00 AM</text>
<text x="361.5" y="323.7" text-anchor="middle" style="font-family:'Liberation Sans',sans-serif;stroke:#000;stroke-width:0.1px;font-size:12.8px">Time (UTC)</text>
</svg>
</body></html>
